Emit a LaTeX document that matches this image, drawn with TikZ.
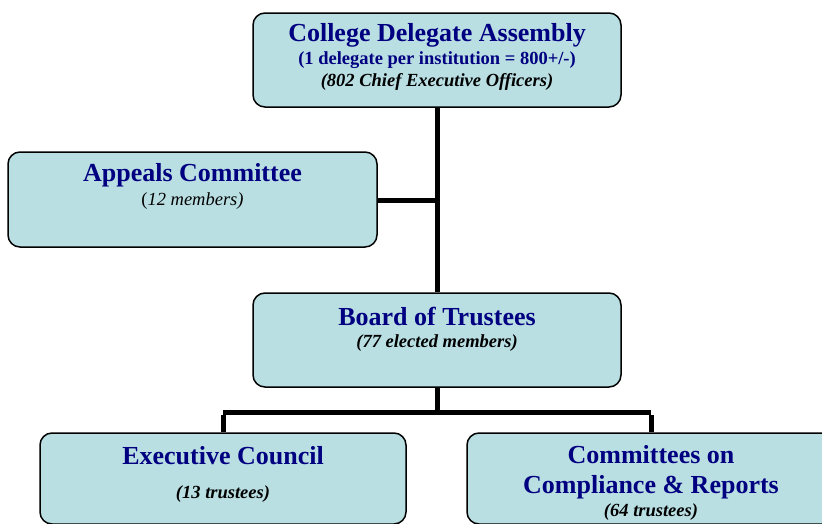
\documentclass[tikz,border=0pt]{standalone}
\usepackage{fontspec}
\setmainfont{Liberation Serif}
\definecolor{boxfill}{RGB}{185,223,227}
\definecolor{navy}{RGB}{0,0,128}
\begin{document}
\begin{tikzpicture}[x=1pt,y=-1pt,
  orgbox/.style={draw=black,line width=1.5pt,fill=boxfill,rounded corners=12pt,inner sep=0pt},
  ttl/.style={font=\fontsize{26}{28}\selectfont\bfseries,text=navy,inner sep=0pt},
  sub/.style={font=\fontsize{18.5}{21}\selectfont\bfseries,text=navy,inner sep=0pt},
  note/.style={font=\fontsize{18.5}{21}\selectfont\bfseries\itshape,text=black,inner sep=0pt},
  link/.style={line width=5pt,draw=black}]
\useasboundingbox (0,0) rectangle (822,523);
\begin{scope}
\clip (0,0) rectangle (822,523);
% boxes
\node[orgbox,minimum width=368pt,minimum height=94pt] (cda) at (437,60) {};
\node[orgbox,minimum width=369pt,minimum height=95pt] (app) at (192.5,199.5) {};
\node[orgbox,minimum width=368pt,minimum height=94pt] (bot) at (437,340) {};
\node[orgbox,minimum width=366pt,minimum height=91pt] (exc) at (223,478.5) {};
\node[orgbox,minimum width=368pt,minimum height=91pt] (cmt) at (651,478.5) {};
% connectors
\coordinate (j1) at (437,200);
\coordinate (j2) at (437,412);
\coordinate (jl) at (223,412);
\coordinate (jr) at (651,412);
\draw[link] (cda.south) -- (bot.north);
\draw[link] (app.east |- j1) -- (j1);
\draw[link] (bot.south) -- (j2);
\draw[link] (jl) -- (jr);
\draw[link] ([yshift=-2.5pt]jl) -- (exc.north);
\draw[link] ([yshift=-2.5pt]jr) -- (cmt.north);
% texts
\node[ttl] (t1) at (437,35) {College Delegate Assembly};
\node[sub] (t2) at (437,60) {(1 delegate per institution = 800+/-)};
\node[note] (t3) at (437,82) {(802 Chief Executive Officers)};
\node[ttl] (t4) at (192.5,175) {Appeals Committee};
\node[note,font=\fontsize{18.5}{21}\selectfont] (t5) at (192.5,201) {(\textit{12 members)}};
\node[ttl] (t6) at (437,316) {Board of Trustees};
\node[note] (t7) at (437,343) {(77 elected members)};
\node[ttl] (t8) at (223,456) {Executive Council};
\node[note] (t9) at (223,494) {(13 trustees)};
\node[ttl] (t10) at (651,455) {Committees on};
\node[ttl] (t11) at (651,487) {Compliance \& Reports};
\node[note] (t12) at (651,512) {(64 trustees)};
\end{scope}
\end{tikzpicture}
\end{document}
